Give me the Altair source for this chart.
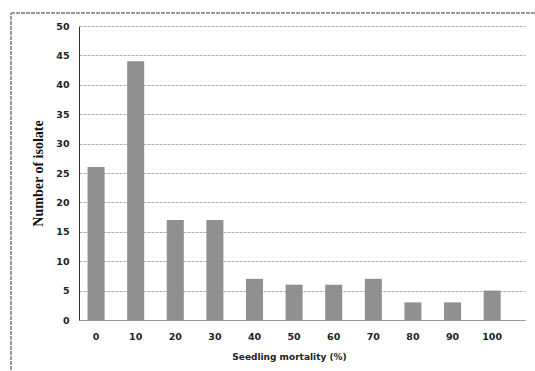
import altair as alt
import pandas as pd

categories = ["0", "10", "20", "30", "40", "50", "60", "70", "80", "90", "100"]
counts = [26, 44, 17, 17, 7, 6, 6, 7, 3, 3, 5]

df = pd.DataFrame({"mortality": categories, "isolates": counts})

bars = alt.Chart(df).mark_bar(color="#8a8a8a", opacity=0.95).encode(
    x=alt.X("mortality:N", sort=categories, title="Seedling mortality (%)",
            scale=alt.Scale(paddingInner=0.57, paddingOuter=0.415, align=0.26),
            axis=alt.Axis(labelAngle=0, labelFont="DejaVu Sans", labelFontSize=9.5,
                          labelFontWeight="bold", labelColor="#222", labelPadding=11,
                          titleFont="DejaVu Sans", titleFontSize=9, titleFontWeight="bold",
                          titleColor="#222", titlePadding=12, titleX=210, ticks=False,
                          domainColor="#999", grid=False)),
    y=alt.Y("isolates:Q", title="Number of isolate",
            scale=alt.Scale(domain=[0, 50]),
            axis=alt.Axis(values=list(range(0, 55, 5)), labelFont="DejaVu Sans",
                          labelFontSize=9.5, labelFontWeight="bold", labelColor="#222",
                          labelPadding=10, ticks=False, domainColor="#333",
                          titleFont="Liberation Serif", titleFontSize=14, titleFontWeight="bold",
                          titleColor="#111", titlePadding=10,
                          gridColor="#b0b0b0", gridDash=[3, 1], gridWidth=1)),
)

frame = alt.Chart(df).mark_rect(fill=None, stroke="#999", strokeWidth=1, strokeDash=[4, 1]).encode(
    x=alt.value(-68), x2=alt.value(470), y=alt.value(-13), y2=alt.value(360)
)

chart = alt.layer(frame, bars).properties(
    width=446, height=294,
    padding={"left": 79, "top": 26, "right": 10, "bottom": 51},
    autosize=alt.AutoSizeParams(type="none"),
    background="white",
).configure_view(stroke=None)

chart.save("out.html", embed_options={"renderer": "svg", "actions": False})
